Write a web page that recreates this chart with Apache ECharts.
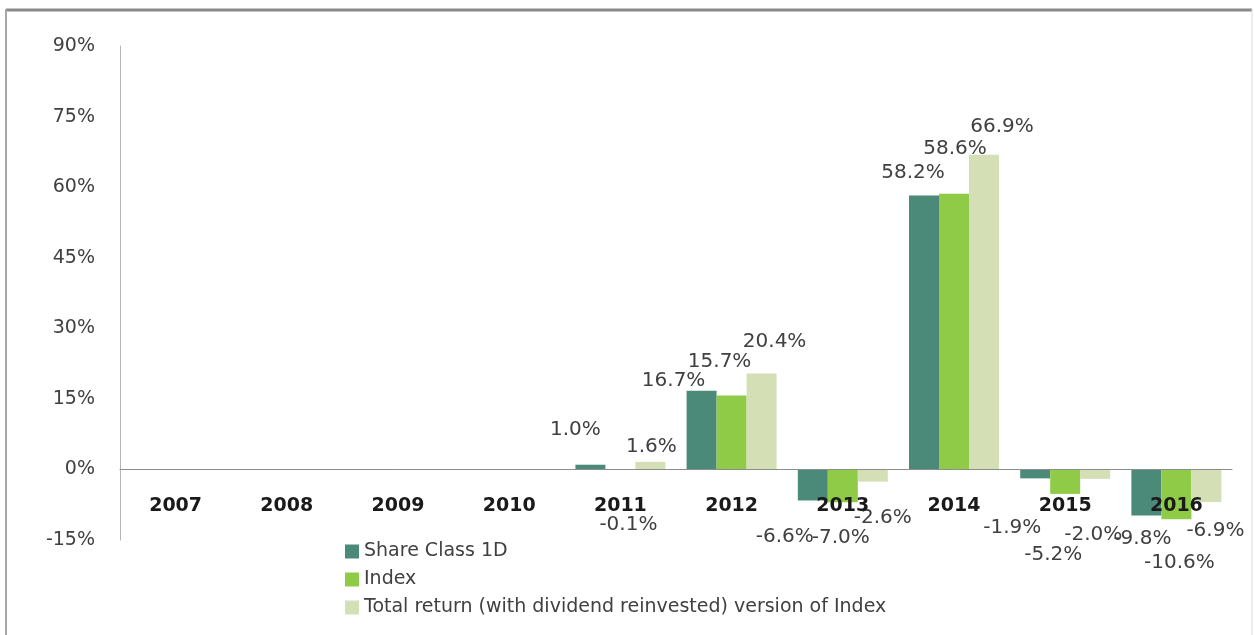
<!DOCTYPE html>
<html>
<head>
<meta charset="utf-8">
<title>Annual returns</title>
<script src="https://cdn.jsdelivr.net/npm/echarts@6/dist/echarts.min.js"></script>
<style>
  html, body { margin: 0; padding: 0; background: #fff; }
  #main { width: 1254px; height: 635px; }
</style>
</head>
<body>
<div id="main"></div>
<script>
// 年份
const years = ['2007', '2008', '2009', '2010', '2011', '2012', '2013', '2014', '2015', '2016']
// 各序列收益率 (%)
const shareClass = [null, null, null, null, 1.0, 16.7, -6.6, 58.2, -1.9, -9.8]
const indexReturn = [null, null, null, null, -0.1, 15.7, -7.0, 58.6, -5.2, -10.6]
const totalReturn = [null, null, null, null, 1.6, 20.4, -2.6, 66.9, -2.0, -6.9]
const seriesNames = ['Share Class 1D', 'Index', 'Total return (with dividend reinvested) version of Index']
const yTicks = [-15, 0, 15, 30, 45, 60, 75, 90]

// 标签微调 (模仿原图中Excel标签的错位)
const labelNudge = [
  [null, null, null, null, [-15, -20], [-28, 5], [-28, 21], [-11, -8], [-23, 34], [-4, 8]],
  [null, null, null, null, [8, 40], [-12, -19], [-2, 20], [1, -30], [-12, 46], [3, 28]],
  [null, null, null, null, [1, 0], [13, -17], [10, 21], [18, -13], [-2, 41], [9, 14]]
]
const colors = ['#4b8a79', '#8fcb47', '#d4dfb6']
const font = 'DejaVu Sans'

const gridTop = 46
const gridBottom = 95
const chartH = 635
const yMin = yTicks[0]
const yMax = yTicks[yTicks.length - 1]
// x轴上移到 0% 处 (标签跟随轴线)
const plotH = chartH - gridTop - gridBottom
const zeroShift = plotH * (0 - yMin) / (yMax - yMin)

function buildData(values, nudges) {
  return values.map((v, i) => {
    if (v === null) return null
    return { value: v, label: { offset: nudges[i] || [0, 0] } }
  })
}

const myChart = echarts.init(document.getElementById('main'))
const option = {
  animation: false,
  backgroundColor: '#fff',
  textStyle: { fontFamily: font },
  graphic: [
    { type: 'line', shape: { x1: 6, y1: 10, x2: 1252, y2: 10 }, style: { stroke: '#8a8a8a', lineWidth: 3 } },
    { type: 'line', shape: { x1: 6, y1: 9, x2: 6, y2: 640 }, style: { stroke: '#a6a6a6', lineWidth: 2 } },
    { type: 'line', shape: { x1: 1252, y1: 9, x2: 1252, y2: 640 }, style: { stroke: '#d9d9d9', lineWidth: 1 } }
  ],
  grid: { left: 120, right: 22, top: gridTop, bottom: gridBottom, containLabel: false },
  legend: {
    orient: 'vertical',
    left: 340,
    top: 537,
    itemGap: 9,
    itemWidth: 14,
    itemHeight: 14,
    icon: 'rect',
    data: seriesNames,
    textStyle: { fontFamily: font, fontSize: 19, color: '#404040' }
  },
  xAxis: {
    type: 'category',
    data: years,
    offset: -zeroShift,
    z: 5, // 年份标签压在柱子上面
    axisLine: { onZero: false, lineStyle: { color: '#8c8c8c', width: 1 } },
    axisTick: { show: false },
    axisLabel: { margin: 27, fontFamily: font, fontSize: 19, fontWeight: 'bold', color: '#1a1a1a' }
  },
  yAxis: {
    type: 'value',
    min: yMin,
    max: yMax,
    interval: 15,
    splitLine: { show: false },
    axisTick: { show: false },
    axisLine: { show: true, lineStyle: { color: '#b5b5b5' } },
    axisLabel: { margin: 25, fontFamily: font, fontSize: 19, color: '#404040', formatter: v => v + '%' }
  },
  series: [shareClass, indexReturn, totalReturn].map((vals, k) => ({
    name: seriesNames[k],
    type: 'bar',
    barWidth: 30,
    barGap: '0%',
    itemStyle: { color: colors[k] },
    label: {
      show: true,
      position: 'outside',
      distance: 5,
      fontFamily: font,
      fontSize: 20,
      color: '#404040',
      formatter: p => p.value.toFixed(1) + '%'
    },
    data: buildData(vals, labelNudge[k])
  }))
}
myChart.setOption(option)
</script>
</body>
</html>
